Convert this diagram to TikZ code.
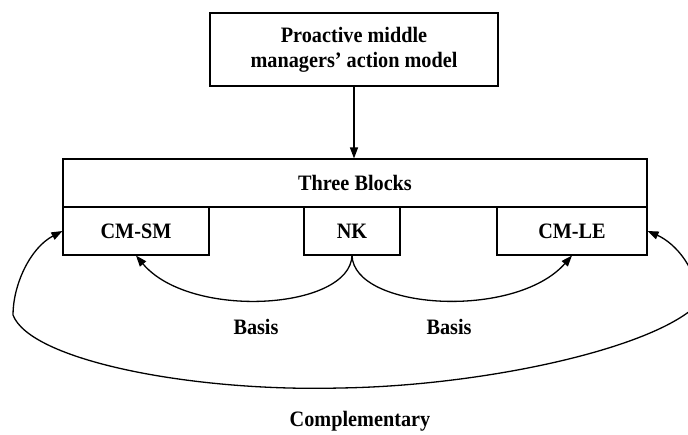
\documentclass[tikz,border=0pt]{standalone}
\usepackage{fontspec}
\setmainfont{Liberation Serif}[FakeStretch=0.92]
\usetikzlibrary{arrows.meta}
\begin{document}
\begin{tikzpicture}[x=1pt,y=-1pt,
  box/.style={draw, line width=1.1pt, inner sep=0pt, minimum height=48pt,
    font=\fontsize{22}{25}\selectfont\bfseries, align=center},
  link/.style={line width=1.3pt, -{Triangle[length=11pt,width=8pt]}},
  tag/.style={font=\fontsize{22}{25}\selectfont\bfseries}]
\useasboundingbox (0,0) rectangle (688,435);
\clip (0,0) rectangle (688,435);
\fill[white] (0,0) rectangle (688,435);

% model box and the three-block frame
\node[box, minimum width=288pt, minimum height=73pt] (model) at (354,49.5)
  {Proactive middle\\managers' action model};
\node[box, minimum width=584pt] (blocks) at (355,183) {Three Blocks};
\node[box, minimum width=146pt] (cmsm) at (136,231) {CM-SM};
\node[box, minimum width=96pt]  (nk)   at (352,231) {NK};
\node[box, minimum width=150pt] (cmle) at (572,231) {CM-LE};

% model feeds the blocks
\draw[link] (model.south) -- (model.south |- blocks.north);

% NK is the basis of both CM blocks
\draw[link] (nk.south) .. controls (350,310) and (190,320) .. (cmsm.south);
\draw[link] (nk.south) .. controls (354,310) and (515,320) .. (cmle.south);
\node[tag] (basisL) at (256,327) {Basis};
\node[tag] (basisR) at (449,327) {Basis};

% the two CM blocks complement each other
\draw[line width=1.3pt, {Triangle[length=11pt,width=8pt]}-{Triangle[length=11pt,width=8pt]}]
  (cmsm.west) .. controls (30,248) and (13,285) .. (13,315)
  .. controls (30,360) and (190,392) .. (340,388)
  .. controls (480,386) and (650,350) .. (697,305)
  .. controls (700,270) and (675,243) .. (cmle.east);
\node[tag] (compl) at (360,421) {Complementary};
\end{tikzpicture}
\end{document}
